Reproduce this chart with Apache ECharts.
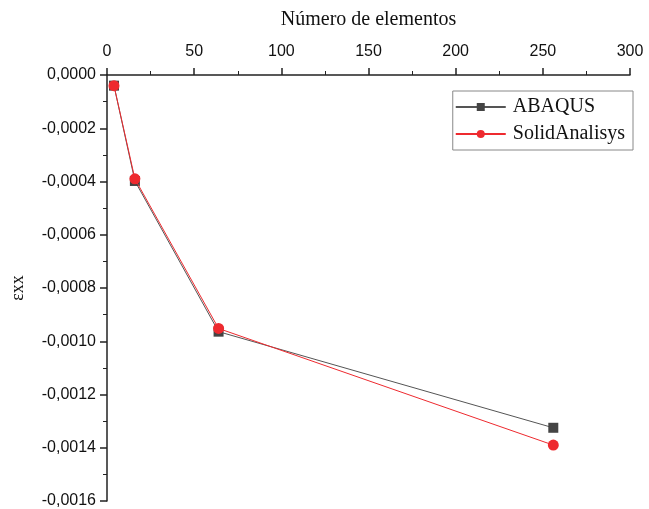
<!DOCTYPE html>
<html>
<head>
<meta charset="utf-8">
<script src="https://cdn.jsdelivr.net/npm/echarts@6/dist/echarts.min.js"></script>
<style>
html,body{margin:0;padding:0;background:#fff;}
#chart{width:649px;height:509px;}
</style>
</head>
<body>
<div id="chart"></div>
<script>
// Mesh refinement study: strain εxx vs number of elements
const elements = [4, 16, 64, 256];
const abaqus = [-0.00004, -0.000398, -0.000964, -0.001325];
const solidAnalisys = [-0.00004, -0.00039, -0.000952, -0.001390];
const xTicks = [0, 50, 100, 150, 200, 250, 300];
const yTicks = [0, -0.0002, -0.0004, -0.0006, -0.0008, -0.0010, -0.0012, -0.0014, -0.0016];

const pairs = (xs, ys) => xs.map((x, i) => [x, ys[i]]);
const fmtY = v => v.toFixed(4).replace('.', ',');

const chart = echarts.init(document.getElementById('chart'));
chart.setOption({
  animation: false,
  backgroundColor: '#fff',
  grid: { left: 107, right: 19, top: 75, bottom: 7 },
  legend: {
    right: 16, top: 91,
    orient: 'vertical',
    backgroundColor: '#fff',
    borderColor: '#888',
    borderWidth: 1,
    borderRadius: 0,
    padding: [6, 8, 6, 2],
    itemGap: 7,
    itemWidth: 50,
    itemHeight: 10,
    textStyle: { fontFamily: 'Liberation Serif', fontSize: 20, color: '#111', padding: [0, 0, 0, 2] },
    data: ['ABAQUS', 'SolidAnalisys']
  },
  xAxis: {
    type: 'value',
    position: 'top',
    min: xTicks[0], max: xTicks[xTicks.length - 1], interval: 50,
    name: 'Número de elementos',
    nameLocation: 'middle',
    nameGap: 45,
    nameTextStyle: { fontFamily: 'Liberation Serif', fontSize: 20, color: '#111' },
    axisLine: { show: true, onZero: false, lineStyle: { color: '#222', width: 1.5 } },
    axisTick: { show: true, inside: false, length: 7, lineStyle: { color: '#222', width: 1.5 } },
    minorTick: { show: true, splitNumber: 2, length: 4, lineStyle: { color: '#222', width: 1 } },
    axisLabel: { margin: 15, fontFamily: 'Liberation Sans', fontSize: 16, color: '#111' },
    splitLine: { show: false }
  },
  yAxis: {
    type: 'value',
    min: yTicks[yTicks.length - 1], max: yTicks[0], interval: 0.0002,
    name: 'εxx',
    nameLocation: 'middle',
    nameRotate: 90,
    nameGap: 80,
    nameTextStyle: { fontFamily: 'Liberation Serif', fontSize: 18, color: '#111' },
    axisLine: { show: true, onZero: false, lineStyle: { color: '#222', width: 1.5 } },
    axisTick: { show: true, inside: false, length: 7, lineStyle: { color: '#222', width: 1.5 } },
    minorTick: { show: true, splitNumber: 2, length: 4, lineStyle: { color: '#222', width: 1 } },
    axisLabel: { margin: 11, fontFamily: 'Liberation Sans', fontSize: 16, color: '#111', formatter: fmtY },
    splitLine: { show: false }
  },
  series: [
    {
      name: 'ABAQUS',
      type: 'line',
      data: pairs(elements, abaqus),
      symbol: 'rect',
      symbolSize: 10,
      itemStyle: { color: '#444' },
      lineStyle: { color: '#555', width: 1 },
      z: 2
    },
    {
      name: 'SolidAnalisys',
      type: 'line',
      data: pairs(elements, solidAnalisys),
      symbol: 'circle',
      symbolSize: 11,
      itemStyle: { color: '#ee2a2f' },
      lineStyle: { color: '#ee2a2f', width: 1 },
      z: 3
    }
  ]
});
</script>
</body>
</html>
